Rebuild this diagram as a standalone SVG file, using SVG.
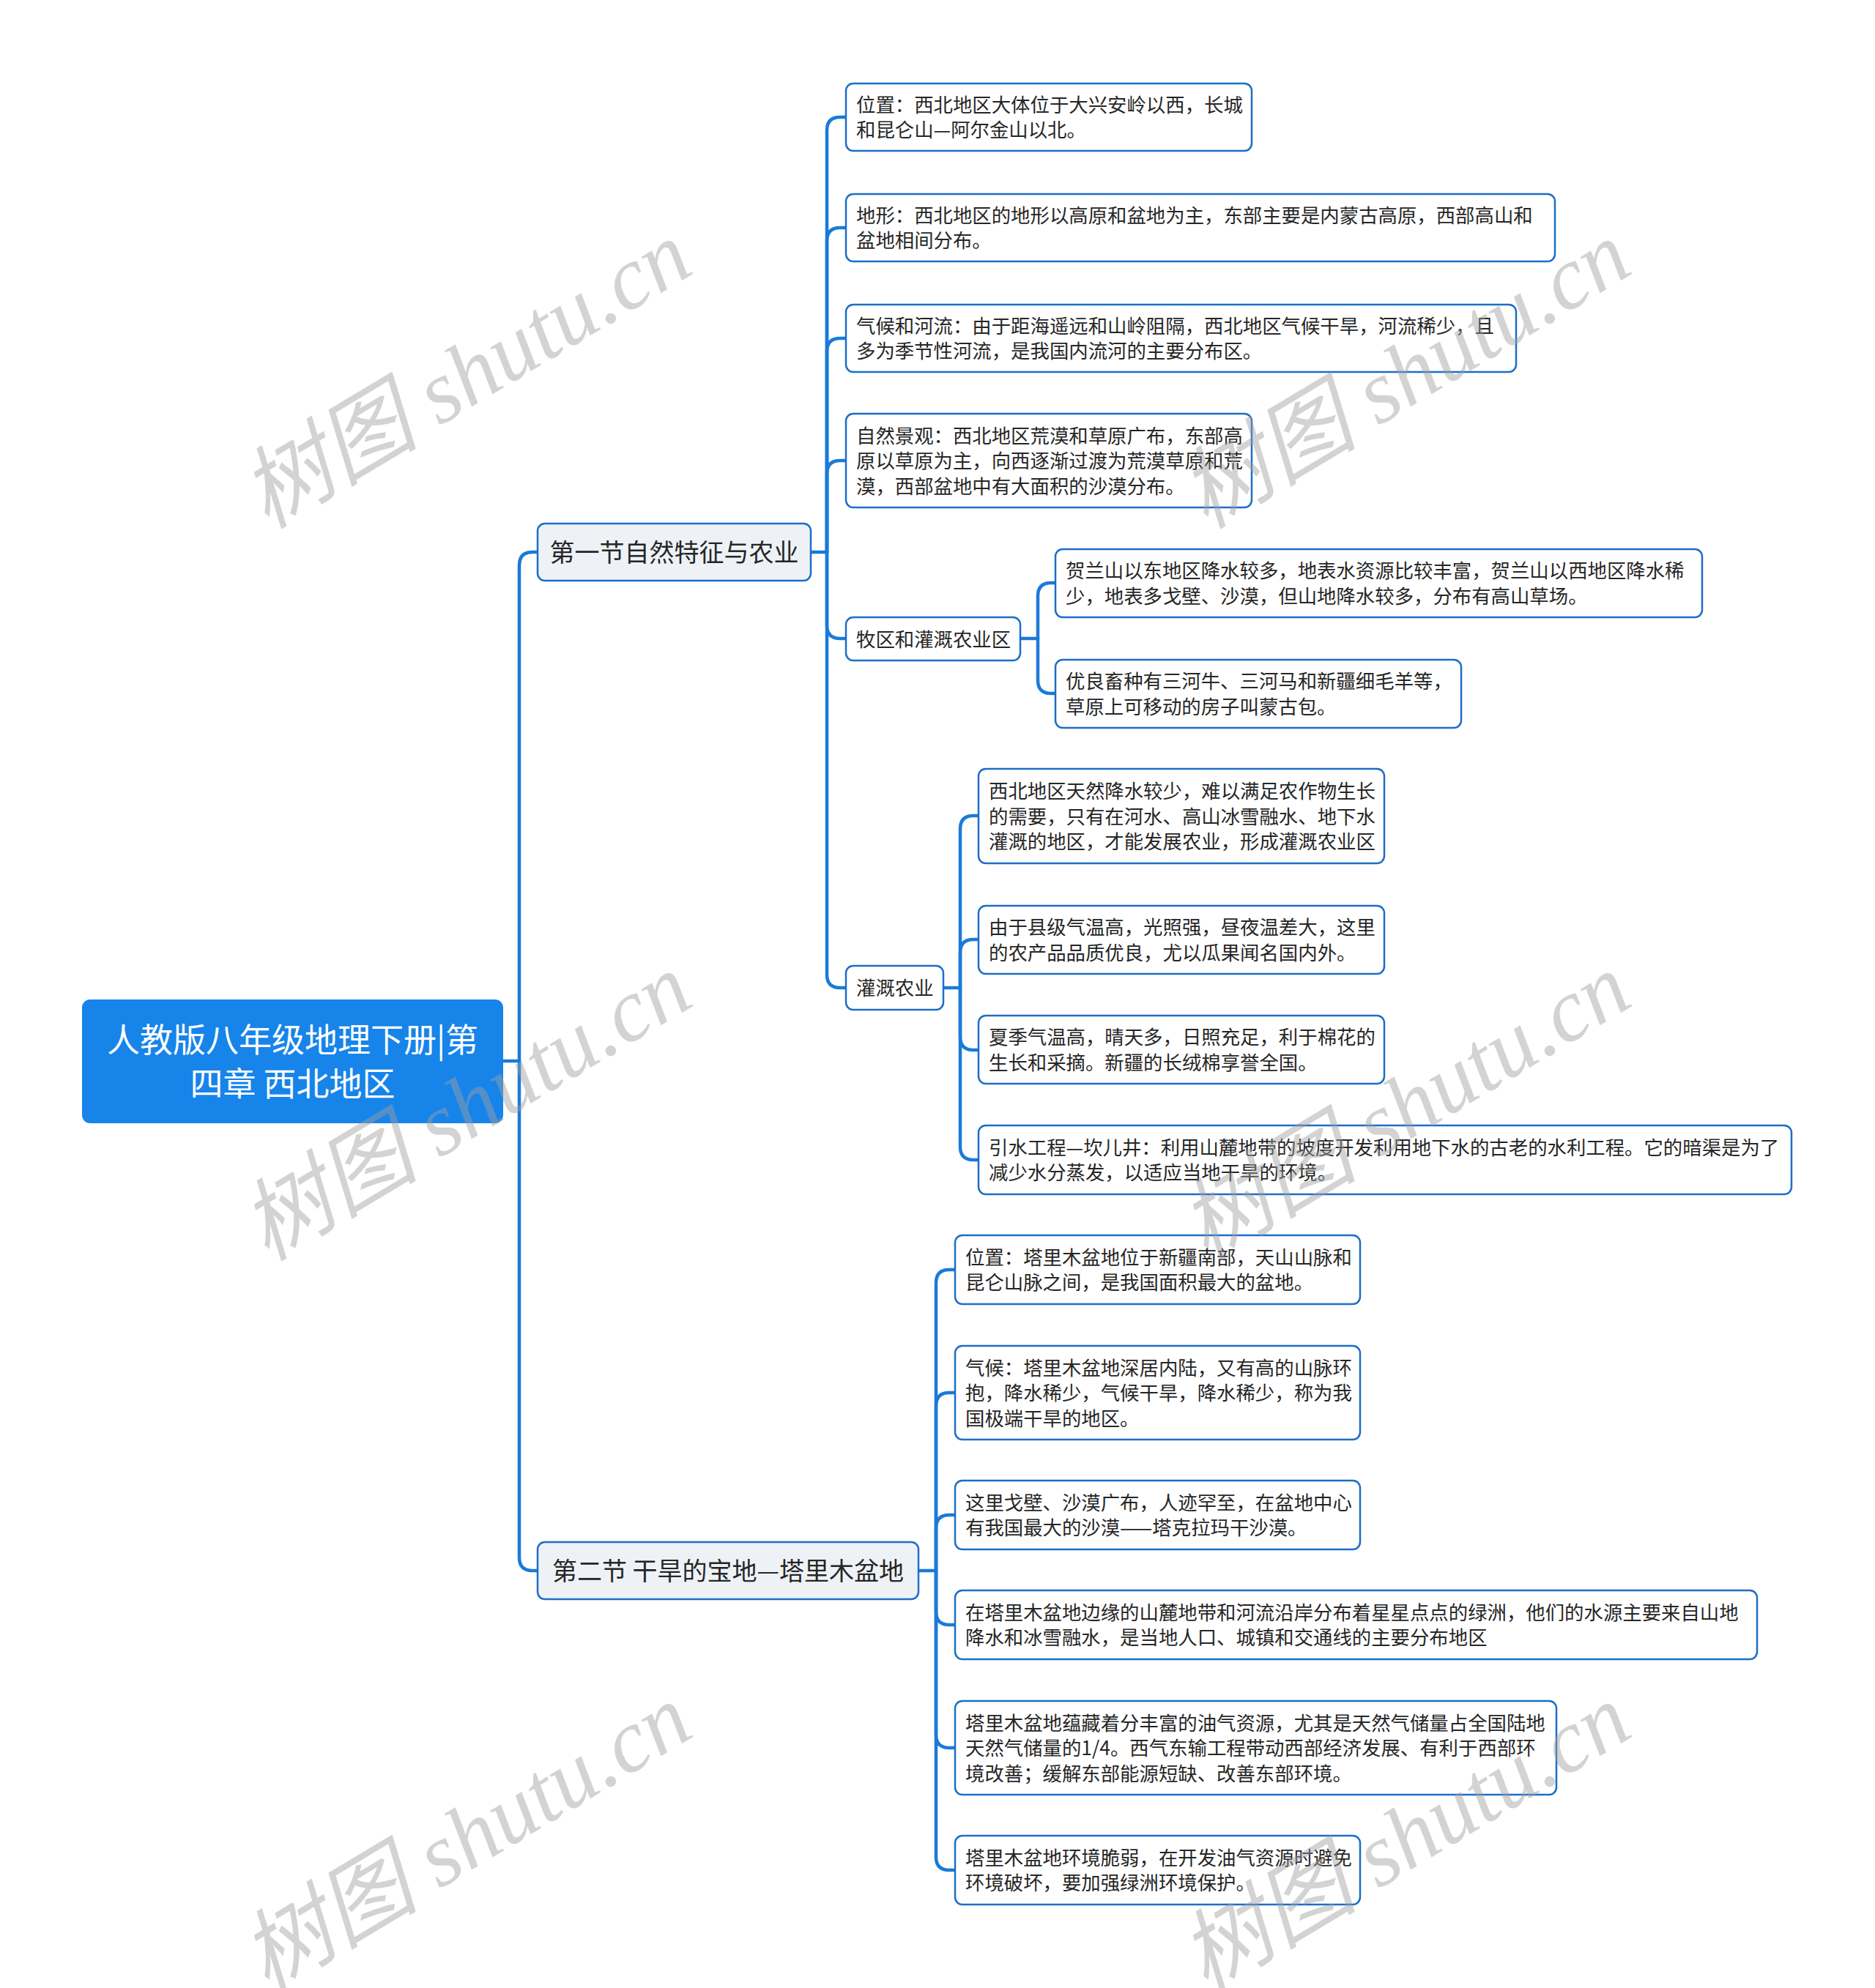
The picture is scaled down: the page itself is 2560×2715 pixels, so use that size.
<svg xmlns="http://www.w3.org/2000/svg" width="2560" height="2715" viewBox="0 0 2560 2715">
<style>
.bg{fill:#ffffff}
.conn path{fill:none;stroke:#1a7ad9;stroke-width:4.5;stroke-linecap:round;stroke-linejoin:round}
.root rect{fill:#1784ea;stroke:#1784ea;stroke-width:2}
.root text{fill:#ffffff;font-family:"Noto Sans CJK SC","Noto Sans",sans-serif;font-size:45px;text-anchor:middle}
.sec rect{fill:#eef2f7;stroke:#1c6ec7;stroke-width:2.5}
.sec text{fill:#262626;font-family:"Noto Sans CJK SC","Noto Sans",sans-serif;font-size:34px;text-anchor:middle}
.leaf rect{fill:#ffffff;stroke:#1c6ec7;stroke-width:2.5}
.leaf text{fill:#262626;font-family:"Noto Sans CJK SC","Noto Sans",sans-serif;font-size:26.4px}
.wm text{fill:#a0a0a0;opacity:0.45;font-family:"Liberation Serif","Noto Sans CJK SC",serif;font-style:italic;font-size:122px;text-anchor:middle}
</style>
<rect class="bg" x="0" y="0" width="2560" height="2715"/>
<g id="connectors" class="conn">
<path d="M686,1449 L709,1449"/>
<path d="M709,1449 L709,772 Q709,754 727,754 L734,754"/>
<path d="M709,1449 L709,2127 Q709,2145 727,2145 L734,2145"/>
<path d="M1107,754 L1129,754"/>
<path d="M1129,754 L1129,178 Q1129,160 1147,160 L1155,160"/>
<path d="M1129,754 L1129,329 Q1129,311 1147,311 L1155,311"/>
<path d="M1129,754 L1129,480 Q1129,462 1147,462 L1155,462"/>
<path d="M1129,754 L1129,647 Q1129,629 1147,629 L1155,629"/>
<path d="M1129,754 L1129,854 Q1129,872 1147,872 L1155,872"/>
<path d="M1129,754 L1129,1331 Q1129,1349 1147,1349 L1155,1349"/>
<path d="M1393,872 L1417,872"/>
<path d="M1417,872 L1417,814 Q1417,796 1435,796 L1441,796"/>
<path d="M1417,872 L1417,929 Q1417,947 1435,947 L1441,947"/>
<path d="M1288,1349 L1311,1349"/>
<path d="M1311,1349 L1311,1132 Q1311,1114 1329,1114 L1336,1114"/>
<path d="M1311,1349 L1311,1301 Q1311,1283 1329,1283 L1336,1283"/>
<path d="M1311,1349 L1311,1416 Q1311,1434 1329,1434 L1336,1434"/>
<path d="M1311,1349 L1311,1566 Q1311,1584 1329,1584 L1336,1584"/>
<path d="M1254,2145 L1278,2145"/>
<path d="M1278,2145 L1278,1752 Q1278,1734 1296,1734 L1304,1734"/>
<path d="M1278,2145 L1278,1920 Q1278,1902 1296,1902 L1304,1902"/>
<path d="M1278,2145 L1278,2087 Q1278,2069 1296,2069 L1304,2069"/>
<path d="M1278,2145 L1278,2201 Q1278,2219 1296,2219 L1304,2219"/>
<path d="M1278,2145 L1278,2369 Q1278,2387 1296,2387 L1304,2387"/>
<path d="M1278,2145 L1278,2536 Q1278,2554 1296,2554 L1304,2554"/>
</g>
<g id="root" class="root">
<rect x="113" y="1366" width="573" height="167" rx="10"/>
<text x="399.5" y="1437">人教版八年级地理下册|第</text>
<text x="399.5" y="1497">四章 西北地区</text>
</g>
<g id="sec1" class="sec">
<rect x="734" y="715" width="373" height="78" rx="10"/>
<text x="920.5" y="767">第一节自然特征与农业</text>
</g>
<g id="sec2" class="sec">
<rect x="734" y="2106" width="520" height="78" rx="10"/>
<text x="994" y="2158">第二节 干旱的宝地—塔里木盆地</text>
</g>
<g id="a1" class="leaf">
<rect x="1155" y="114" width="554" height="92" rx="10"/>
<text x="1169" y="152.75">位置：西北地区大体位于大兴安岭以西，长城</text>
<text x="1169" y="187.25">和昆仑山—阿尔金山以北。</text>
</g>
<g id="a2" class="leaf">
<rect x="1155" y="265" width="968" height="92" rx="10"/>
<text x="1169" y="303.75">地形：西北地区的地形以高原和盆地为主，东部主要是内蒙古高原，西部高山和</text>
<text x="1169" y="338.25">盆地相间分布。</text>
</g>
<g id="a3" class="leaf">
<rect x="1155" y="416" width="915" height="92" rx="10"/>
<text x="1169" y="454.75">气候和河流：由于距海遥远和山岭阻隔，西北地区气候干旱，河流稀少，且</text>
<text x="1169" y="489.25">多为季节性河流，是我国内流河的主要分布区。</text>
</g>
<g id="a4" class="leaf">
<rect x="1155" y="565" width="554" height="128" rx="10"/>
<text x="1169" y="604.5">自然景观：西北地区荒漠和草原广布，东部高</text>
<text x="1169" y="639">原以草原为主，向西逐渐过渡为荒漠草原和荒</text>
<text x="1169" y="673.5">漠，西部盆地中有大面积的沙漠分布。</text>
</g>
<g id="a5" class="leaf">
<rect x="1155" y="843" width="238" height="59" rx="10"/>
<text x="1169" y="882.5">牧区和灌溉农业区</text>
</g>
<g id="a6" class="leaf">
<rect x="1155" y="1319" width="133" height="60" rx="10"/>
<text x="1169" y="1359">灌溉农业</text>
</g>
<g id="b1" class="leaf">
<rect x="1441" y="750" width="883" height="93" rx="10"/>
<text x="1455" y="789.25">贺兰山以东地区降水较多，地表水资源比较丰富，贺兰山以西地区降水稀</text>
<text x="1455" y="823.75">少，地表多戈壁、沙漠，但山地降水较多，分布有高山草场。</text>
</g>
<g id="b2" class="leaf">
<rect x="1441" y="901" width="554" height="93" rx="10"/>
<text x="1455" y="940.25">优良畜种有三河牛、三河马和新疆细毛羊等，</text>
<text x="1455" y="974.75">草原上可移动的房子叫蒙古包。</text>
</g>
<g id="c1" class="leaf">
<rect x="1336" y="1050" width="554" height="129" rx="10"/>
<text x="1350" y="1090">西北地区天然降水较少，难以满足农作物生长</text>
<text x="1350" y="1124.5">的需要，只有在河水、高山冰雪融水、地下水</text>
<text x="1350" y="1159">灌溉的地区，才能发展农业，形成灌溉农业区</text>
</g>
<g id="c2" class="leaf">
<rect x="1336" y="1237" width="554" height="93" rx="10"/>
<text x="1350" y="1276.25">由于县级气温高，光照强，昼夜温差大，这里</text>
<text x="1350" y="1310.75">的农产品品质优良，尤以瓜果闻名国内外。</text>
</g>
<g id="c3" class="leaf">
<rect x="1336" y="1387" width="554" height="93" rx="10"/>
<text x="1350" y="1426.25">夏季气温高，晴天多，日照充足，利于棉花的</text>
<text x="1350" y="1460.75">生长和采摘。新疆的长绒棉享誉全国。</text>
</g>
<g id="c4" class="leaf">
<rect x="1336" y="1537" width="1110" height="94" rx="10"/>
<text x="1350" y="1576.75">引水工程—坎儿井：利用山麓地带的坡度开发利用地下水的古老的水利工程。它的暗渠是为了</text>
<text x="1350" y="1611.25">减少水分蒸发，以适应当地干旱的环境。</text>
</g>
<g id="d1" class="leaf">
<rect x="1304" y="1687" width="553" height="94" rx="10"/>
<text x="1318" y="1726.75">位置：塔里木盆地位于新疆南部，天山山脉和</text>
<text x="1318" y="1761.25">昆仑山脉之间，是我国面积最大的盆地。</text>
</g>
<g id="d2" class="leaf">
<rect x="1304" y="1838" width="553" height="128" rx="10"/>
<text x="1318" y="1877.5">气候：塔里木盆地深居内陆，又有高的山脉环</text>
<text x="1318" y="1912">抱，降水稀少，气候干旱，降水稀少，称为我</text>
<text x="1318" y="1946.5">国极端干旱的地区。</text>
</g>
<g id="d3" class="leaf">
<rect x="1304" y="2022" width="553" height="94" rx="10"/>
<text x="1318" y="2061.75">这里戈壁、沙漠广布，人迹罕至，在盆地中心</text>
<text x="1318" y="2096.25">有我国最大的沙漠——塔克拉玛干沙漠。</text>
</g>
<g id="d4" class="leaf">
<rect x="1304" y="2172" width="1095" height="94" rx="10"/>
<text x="1318" y="2211.75">在塔里木盆地边缘的山麓地带和河流沿岸分布着星星点点的绿洲，他们的水源主要来自山地</text>
<text x="1318" y="2246.25">降水和冰雪融水，是当地人口、城镇和交通线的主要分布地区</text>
</g>
<g id="d5" class="leaf">
<rect x="1304" y="2323" width="821" height="128" rx="10"/>
<text x="1318" y="2362.5">塔里木盆地蕴藏着分丰富的油气资源，尤其是天然气储量占全国陆地</text>
<text x="1318" y="2397">天然气储量的1/4。西气东输工程带动西部经济发展、有利于西部环</text>
<text x="1318" y="2431.5">境改善；缓解东部能源短缺、改善东部环境。</text>
</g>
<g id="d6" class="leaf">
<rect x="1304" y="2507" width="553" height="94" rx="10"/>
<text x="1318" y="2546.75">塔里木盆地环境脆弱，在开发油气资源时避免</text>
<text x="1318" y="2581.25">环境破坏，要加强绿洲环境保护。</text>
</g>
<g id="watermarks" class="wm">
<text transform="translate(637,513) rotate(-31)" y="40">树图 shutu.cn</text>
<text transform="translate(637,1513) rotate(-31)" y="40">树图 shutu.cn</text>
<text transform="translate(637,2511) rotate(-31)" y="40">树图 shutu.cn</text>
<text transform="translate(1919,513) rotate(-31)" y="40">树图 shutu.cn</text>
<text transform="translate(1919,1513) rotate(-31)" y="40">树图 shutu.cn</text>
<text transform="translate(1919,2511) rotate(-31)" y="40">树图 shutu.cn</text>
</g>
</svg>
